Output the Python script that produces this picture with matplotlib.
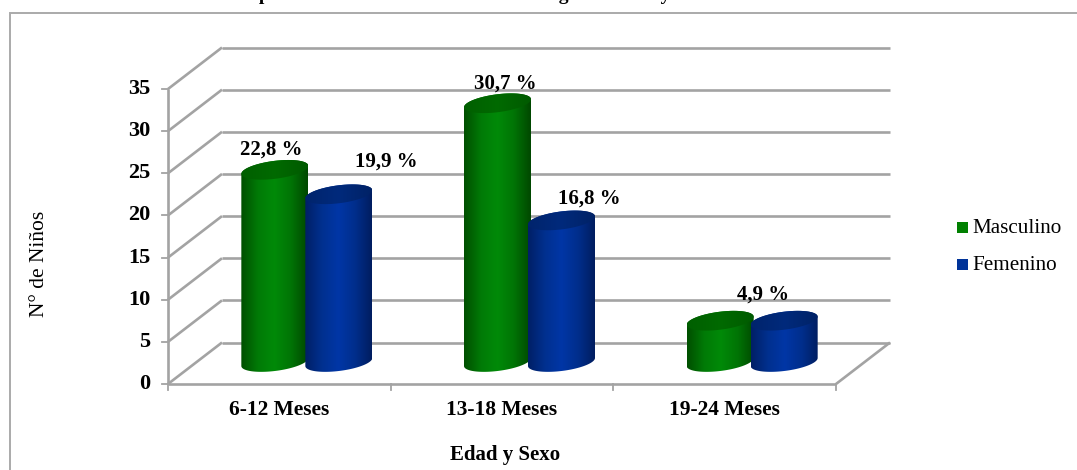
import numpy as np
import matplotlib
matplotlib.use("Agg")
import matplotlib.pyplot as plt
from matplotlib.path import Path
from matplotlib.patches import PathPatch, Rectangle
from matplotlib.colors import LinearSegmentedColormap

plt.rcParams['font.family'] = ['Liberation Serif', 'DejaVu Serif']

titulo = "Distribución porcentual de los niños evaluados según la edad y sexo"
categorias = ["6-12 Meses", "13-18 Meses", "19-24 Meses"]
series = ["Masculino", "Femenino"]
masculino = [22.8, 30.7, 4.9]
femenino = [19.9, 16.8, 4.9]
ticks_y = [0, 5, 10, 15, 20, 25, 30, 35]

W, H = 1077, 470
fig = plt.figure(figsize=(W / 100, H / 100), dpi=100)

# front plane of the chart, the depth is added by hand
izq, der, abajo, arriba = 168, 836, 384, 89
ax = fig.add_axes([izq / W, 1 - abajo / H, (der - izq) / W, (abajo - arriba) / H])
ax.set_xlim(0, 3)
ax.set_ylim(0, 35)
ax.axis("off")

px_x = 3 / (der - izq)
px_y = 35 / (abajo - arriba)
prof_x = 54 * px_x
prof_y = 41.5 * px_y

gris = "#a3a3a3"
kw_linea = dict(color=gris, lw=1.9, clip_on=False, zorder=1, solid_capstyle="butt")

for t in ticks_y:
    ax.plot([0, prof_x], [t, t + prof_y], **kw_linea)
    ax.plot([prof_x, 3 + prof_x], [t + prof_y, t + prof_y], **kw_linea)
    ax.plot([-6 * px_x, 0], [t, t], color=gris, lw=1.3, clip_on=False, zorder=1)
    ax.text(-18 * px_x, t, str(t), ha="right", va="center", fontsize=16,
            fontweight="bold", color="black")

ax.plot([0, 0], [0, 35], **kw_linea)
ax.plot([0, 3], [0, 0], **kw_linea)
ax.plot([3, 3 + prof_x], [0, prof_y], **kw_linea)
for i in range(4):
    ax.plot([i, i], [0, -6 * px_y], color=gris, lw=1.3, clip_on=False, zorder=1)
for i, c in enumerate(categorias):
    ax.text(i + 0.5, -26 * px_y, c, ha="center", va="center", fontsize=15.5,
            fontweight="bold")

verde = LinearSegmentedColormap.from_list("v", ["#004f00", "#007a06", "#008a08", "#007405", "#004800"])
azul = LinearSegmentedColormap.from_list("a", ["#001f66", "#00308f", "#0036a6", "#002e8c", "#001d60"])
tapa_verde = LinearSegmentedColormap.from_list("tv", ["#005f00", "#006a00", "#005a00"])
tapa_azul = LinearSegmentedColormap.from_list("ta", ["#00246c", "#002a7c", "#002266"])

base = 22 * px_y
semi_x = 33.5 * px_x
semi_y = 9 * px_y
inclina = 4 * px_y


def contorno(cx, y, t0, t1):
    t = np.linspace(t0, t1, 60)
    return cx + semi_x * np.cos(t), y + semi_y * np.sin(t) + inclina * np.cos(t)


def cilindro(cx, valor, cmap, cmap_tapa, z):
    tope = base + valor
    # lower half of the base ellipse, then upper half of the top one
    xb, yb = contorno(cx, base, np.pi, 2 * np.pi)
    xt, yt = contorno(cx, tope, 0, np.pi)
    verts = np.vstack([np.c_[xb, yb], np.c_[xt, yt], [[xb[0], yb[0]]]])
    codes = [Path.MOVETO] + [Path.LINETO] * (len(verts) - 2) + [Path.CLOSEPOLY]
    cuerpo = PathPatch(Path(verts, codes), fc="none", ec="none")
    ax.add_patch(cuerpo)
    degr = np.linspace(0, 1, 128).reshape(1, -1)
    im = ax.imshow(degr, cmap=cmap, extent=[cx - semi_x, cx + semi_x, base - 2 * semi_y, tope + 2 * semi_y],
                   aspect="auto", zorder=z)
    im.set_clip_path(cuerpo)
    # cap
    xc, yc = contorno(cx, tope, 0, 2 * np.pi)
    tapa = PathPatch(Path(np.c_[xc, yc], closed=False), fc="none", ec="none")
    ax.add_patch(tapa)
    im2 = ax.imshow(degr, cmap=cmap_tapa, extent=[cx - semi_x, cx + semi_x, tope - 2 * semi_y, tope + 2 * semi_y],
                    aspect="auto", zorder=z + 0.1)
    im2.set_clip_path(tapa)


centros = [i + 0.5 + 27.5 * px_x for i in range(3)]
for i in range(3):
    cilindro(centros[i] - 32 * px_x, masculino[i], verde, tapa_verde, 3)
    cilindro(centros[i] + 32 * px_x, femenino[i], azul, tapa_azul, 4)

ax.set_xlim(0, 3)
ax.set_ylim(0, 35)


def etiqueta(v):
    return f"{v:.1f} %".replace(".", ",")


# value labels sit near each cylinder top, nudged by hand (pixels)
desvio_m = [(-4, 20), (8, 20), None]
desvio_f = [(47, 33), (28, 22), (-21, 26)]
for i in range(3):
    if desvio_m[i] is not None:
        ax.text(centros[i] - 32 * px_x + desvio_m[i][0] * px_x,
                base + masculino[i] + desvio_m[i][1] * px_y,
                etiqueta(masculino[i]), ha="center", va="center", fontsize=15,
                fontweight="bold", zorder=6)
    ax.text(centros[i] + 32 * px_x + desvio_f[i][0] * px_x,
            base + femenino[i] + desvio_f[i][1] * px_y,
            etiqueta(femenino[i]), ha="center", va="center", fontsize=15,
            fontweight="bold", zorder=6)

# title baseline sits at the top edge of the figure
fig.text(150 / W, 1.0, titulo, ha="left", va="baseline", fontsize=14, fontweight="bold")
fig.text(39 / W, 1 - 264 / H, "N° de Niños", rotation=90, ha="center", va="center", fontsize=15.5)
fig.text(505 / W, 1 - 455 / H, "Edad y Sexo", ha="center", va="center", fontsize=15, fontweight="bold")

# outer chart frame runs off the right and bottom edges
fig.add_artist(Rectangle((10 / W, -0.05), 1.1, 1 - 13 / H + 0.05, transform=fig.transFigure,
                         fc="none", ec="#aaaaaa", lw=1.4))

# legend
for nombre, col, yy in zip(series, ["#008000", "#003399"], [228, 265]):
    fig.add_artist(Rectangle((957 / W, 1 - (yy + 5) / H), 11 / W, 11 / H,
                             transform=fig.transFigure, fc=col, ec="none"))
    fig.text(972 / W, 1 - yy / H, nombre, ha="left", va="center", fontsize=15.2)

fig.savefig("out.png", dpi=100)
